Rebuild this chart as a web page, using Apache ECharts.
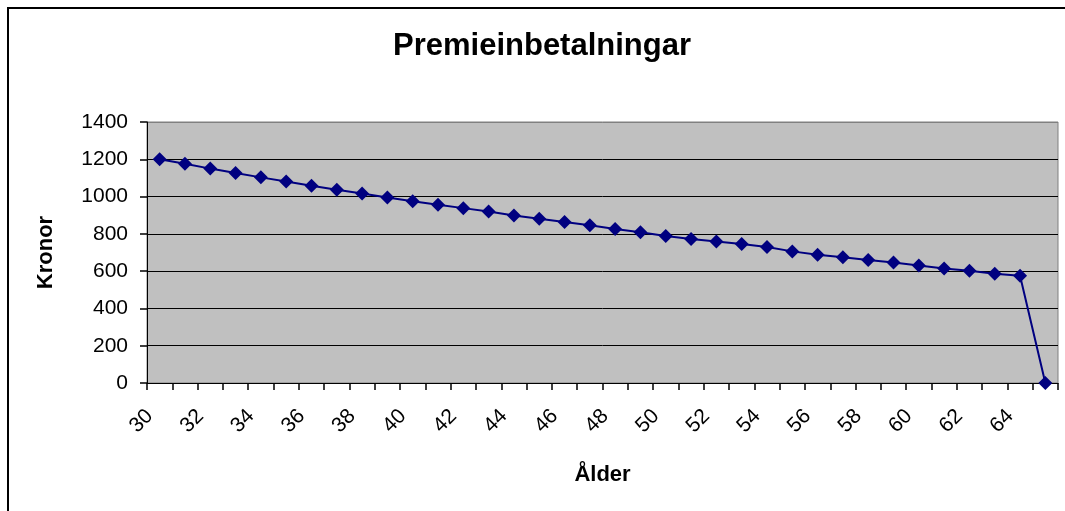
<!DOCTYPE html>
<html>
<head>
<meta charset="utf-8">
<script src="https://cdn.jsdelivr.net/npm/echarts@6/dist/echarts.min.js"></script>
<style>
html,body{margin:0;padding:0;background:#fff;}
#chart{width:1065px;height:511px;}
</style>
</head>
<body>
<div id="chart"></div>
<script>
const titleText = 'Premieinbetalningar';
const xAxisName = 'Ålder';
const yAxisName = 'Kronor';
const ages = ['30','31','32','33','34','35','36','37','38','39','40','41','42','43','44','45','46','47','48','49','50','51','52','53','54','55','56','57','58','59','60','61','62','63','64','65'];
const premiums = [1200,1176,1150,1126,1103,1081,1058,1036,1017,995,975,956,938,920,898,881,863,846,826,809,789,773,759,745,729,706,688,675,660,646,630,614,602,586,575,0];
const yMin = 0, yMax = 1400, yStep = 200;

const chart = echarts.init(document.getElementById('chart'), null, {renderer:'canvas'});
const font = '"Liberation Sans", Arial, sans-serif';
const splitColors = [];
for (let v = yMin; v <= yMax; v += yStep) splitColors.push(v === yMax ? '#808080' : '#000000');

chart.setOption({
  animation: false,
  backgroundColor: '#ffffff',
  textStyle: {fontFamily: font},
  graphic: [{
    type: 'rect',
    shape: {x: 8, y: 8, width: 1200, height: 700},
    style: {fill: null, stroke: '#000', lineWidth: 2},
    silent: true, z: 100
  }, {
    type: 'text',
    left: 393, top: 31,
    style: {text: titleText, font: 'bold 31px ' + font, fill: '#000'}
  }],
  grid: {
    left: 147, right: 7, top: 122, bottom: 128,
    show: true, backgroundColor: '#C0C0C0', borderColor: '#808080', borderWidth: 1,
    containLabel: false
  },
  xAxis: {
    type: 'category',
    data: ages,
    boundaryGap: true,
    name: xAxisName,
    nameLocation: 'middle',
    nameGap: 81,
    nameTextStyle: {fontSize: 22, fontWeight: 'bold', color: '#000', fontFamily: font},
    axisLine: {show: true, lineStyle: {color: '#000', width: 1}},
    axisTick: {show: true, inside: false, interval: 0, length: 7, alignWithLabel: false, lineStyle: {color: '#000', width: 1.5}},
    axisLabel: {interval: 1, rotate: 45, fontSize: 21, color: '#000', margin: 20, padding: [0, 14, 0, 0], fontFamily: font},
    splitLine: {show: false},
    z: 5
  },
  yAxis: {
    type: 'value',
    min: yMin, max: yMax, interval: yStep,
    name: yAxisName,
    nameLocation: 'middle',
    nameGap: 90,
    nameTextStyle: {fontSize: 22, fontWeight: 'bold', color: '#000', fontFamily: font},
    axisLine: {show: true, lineStyle: {color: '#000', width: 1}},
    axisTick: {show: true, inside: false, length: 7, lineStyle: {color: '#000', width: 1.5}},
    axisLabel: {fontSize: 21, color: '#000', margin: 19, fontFamily: font, formatter: v => String(v)},
    splitLine: {show: true, lineStyle: {color: splitColors, width: 1}},
    z: 5
  },
  series: [{
    type: 'line',
    data: premiums,
    symbol: 'diamond',
    symbolSize: 14,
    itemStyle: {color: '#000080'},
    lineStyle: {color: '#000080', width: 2},
    z: 10
  }]
});
</script>
</body>
</html>
